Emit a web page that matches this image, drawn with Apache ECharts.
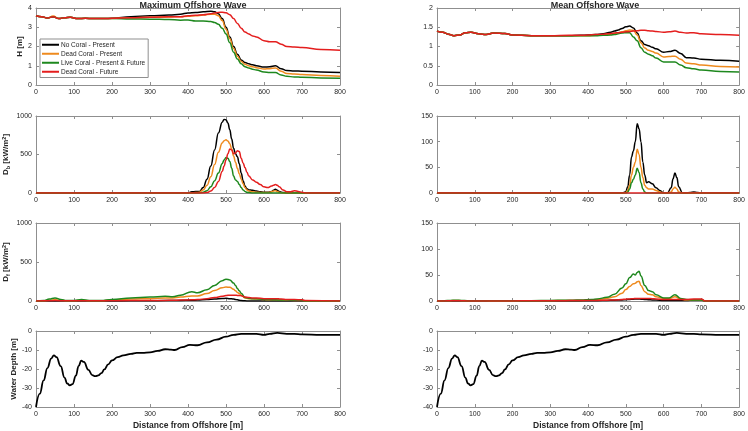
<!DOCTYPE html>
<html>
<head>
<meta charset="utf-8">
<script src="https://cdn.jsdelivr.net/npm/echarts@6/dist/echarts.min.js"></script>
<style>html,body{margin:0;padding:0;background:#fff}#c{width:748px;height:431px}</style>
</head>
<body>
<div id="c"></div>
<script>
// ---------- Data ----------
const SERIES_NAMES = ['No Coral - Present', 'Dead Coral - Present', 'Live Coral - Present & Future', 'Dead Coral - Future'];
const TITLES = ['Maximum Offshore Wave', 'Mean Offshore Wave'];

// Wave height
const X_H = [0,15,30,45,60,75,90,110,130,150,180,200,250,300,350,380,400,420,440,460,470,480,490,500,510,520,530,540,550,560,570,580,600,615,630,645,660,680,700,750,800];
const HMAX_NOCORAL = [3.6,3.55,3.48,3.55,3.45,3.5,3.52,3.45,3.47,3.45,3.45,3.47,3.55,3.6,3.63,3.68,3.74,3.77,3.8,3.83,3.8,3.7,3.45,3.0,2.5,2.0,1.6,1.3,1.17,1.1,1.05,1.0,0.93,0.95,1.0,0.85,0.75,0.73,0.72,0.68,0.65];
const HMAX_DEAD_PRESENT = [3.6,3.55,3.48,3.58,3.45,3.5,3.52,3.45,3.47,3.45,3.45,3.46,3.5,3.52,3.53,3.55,3.57,3.6,3.63,3.68,3.68,3.6,3.35,2.9,2.4,1.9,1.5,1.22,1.08,1.0,0.95,0.9,0.83,0.85,0.88,0.72,0.6,0.57,0.55,0.5,0.45];
const HMAX_LIVE = [3.6,3.55,3.48,3.55,3.45,3.5,3.52,3.45,3.47,3.45,3.45,3.45,3.43,3.42,3.4,3.37,3.38,3.33,3.32,3.3,3.25,3.15,2.95,2.65,2.2,1.7,1.35,1.1,0.95,0.88,0.82,0.78,0.68,0.65,0.65,0.52,0.45,0.42,0.4,0.37,0.35];
const HMAX_DEAD_FUTURE = [3.6,3.55,3.48,3.55,3.45,3.5,3.52,3.45,3.47,3.45,3.45,3.47,3.5,3.52,3.55,3.55,3.6,3.62,3.65,3.7,3.74,3.77,3.78,3.75,3.65,3.45,3.2,2.95,2.75,2.65,2.55,2.5,2.3,2.25,2.25,2.12,2.0,1.98,1.95,1.85,1.8];

const HMEAN_NOCORAL = [1.4,1.37,1.32,1.28,1.3,1.36,1.37,1.33,1.31,1.35,1.34,1.3,1.28,1.28,1.28,1.29,1.3,1.31,1.33,1.37,1.4,1.43,1.47,1.51,1.53,1.48,1.35,1.15,1.05,1.02,0.98,0.94,0.85,0.87,0.9,0.82,0.71,0.7,0.67,0.64,0.62];
const HMEAN_DEAD_PRESENT = [1.4,1.37,1.32,1.28,1.3,1.36,1.37,1.33,1.31,1.35,1.34,1.3,1.28,1.28,1.28,1.28,1.28,1.29,1.3,1.32,1.34,1.36,1.38,1.41,1.43,1.42,1.3,1.1,0.96,0.9,0.87,0.83,0.73,0.74,0.75,0.67,0.57,0.55,0.52,0.48,0.47];
const HMEAN_LIVE = [1.4,1.37,1.32,1.28,1.3,1.36,1.37,1.33,1.31,1.35,1.34,1.3,1.28,1.28,1.28,1.28,1.28,1.28,1.29,1.3,1.31,1.33,1.35,1.36,1.36,1.25,1.15,0.97,0.85,0.8,0.76,0.7,0.6,0.6,0.6,0.52,0.45,0.42,0.39,0.35,0.34];
const HMEAN_DEAD_FUTURE = [1.4,1.37,1.32,1.28,1.3,1.36,1.37,1.33,1.31,1.35,1.34,1.3,1.28,1.28,1.29,1.29,1.3,1.31,1.32,1.34,1.35,1.36,1.37,1.38,1.39,1.4,1.41,1.42,1.42,1.41,1.4,1.39,1.37,1.38,1.4,1.37,1.35,1.36,1.33,1.31,1.29];

// Breaking dissipation Db
const X_DB = [0,400,410,420,430,440,450,460,470,480,490,495,500,505,510,515,520,525,530,535,540,545,550,555,560,570,580,590,600,610,620,625,630,635,640,650,660,670,680,690,700,710,800];
const DBMAX_NOCORAL = [0,0,15,20,20,70,180,350,560,780,920,955,950,910,820,700,580,510,470,380,260,160,90,55,40,35,25,15,10,10,20,35,50,35,20,5,0,0,0,0,0,0,0];
const DBMAX_DEAD_PRESENT = [0,0,0,5,10,40,100,210,370,530,650,680,690,675,640,570,480,400,320,250,180,120,70,40,25,15,10,8,5,5,15,25,30,20,10,0,0,0,0,0,0,0,0];
const DBMAX_LIVE = [0,0,0,0,0,10,30,80,160,260,380,430,460,450,410,320,220,170,150,110,70,40,20,10,5,0,0,0,0,0,0,0,0,0,0,0,0,0,0,0,0,0,0];
const DBMAX_DEAD_FUTURE = [0,0,0,0,0,0,5,25,70,150,280,350,430,510,570,560,510,520,550,540,450,390,330,270,220,170,140,110,80,70,90,100,110,100,80,40,15,15,30,20,10,0,0];

const DBMEAN_NOCORAL = [0,0,0,0,0,0,0,0,0,0,0,1,3,12,35,70,82,100,135,125,100,60,35,20,22,18,10,5,0,0,10,28,39,30,12,0,0,1,2,1,0,0,0];
const DBMEAN_DEAD_PRESENT = [0,0,0,0,0,0,0,0,0,0,0,0,1,5,15,35,50,60,85,75,50,30,15,10,8,8,5,2,0,0,2,8,11,8,2,0,0,0,0,0,0,0,0];
const DBMEAN_LIVE = [0,0,0,0,0,0,0,0,0,0,0,0,0,2,8,20,27,35,48,40,20,8,2,0,0,0,0,0,0,0,0,0,0,0,0,0,0,0,0,0,0,0,0];
const DBMEAN_DEAD_FUTURE = [0,0,0,0,0,0,0,0,0,0,0,0,0,0,0,0,0,0,0,0,0,0,0,0,0,0,0,0,0,0,0,0,0,0,0,0,0,0,0,0,0,0,0];

// Friction dissipation Df
const X_DF = [0,20,35,50,65,80,100,120,140,170,200,250,300,340,360,380,410,425,450,470,490,500,510,520,525,530,535,540,550,560,570,580,600,615,630,645,660,680,700,710,800];
const DFMAX_NOCORAL = [0,0,0,0,0,0,0,0,0,0,0,2,3,5,5,7,10,12,18,25,32,35,30,25,20,15,10,6,2,0,0,0,0,0,0,0,0,0,0,0,0];
const DFMAX_DEAD_PRESENT = [0,3,10,15,8,3,3,8,3,3,12,25,30,40,40,50,65,65,95,135,170,180,175,150,130,110,95,75,40,30,28,25,18,15,15,12,10,8,8,0,0];
const DFMAX_LIVE = [0,5,25,40,20,5,5,18,5,5,20,40,50,60,55,75,120,105,145,200,260,280,270,230,200,160,130,100,45,35,30,28,20,18,15,12,12,10,8,0,0];
const DFMAX_DEAD_FUTURE = [0,2,3,5,3,2,2,3,2,2,3,5,5,8,10,12,15,18,30,45,60,70,75,75,75,72,70,68,50,45,40,38,30,28,30,25,20,18,15,5,0];

const DFMEAN_NOCORAL = [0,0,0,0,0,0,0,0,0,0,0,0,0,0,0,0,0.5,0.5,1,1.5,2,2.5,3,3.5,4,4,4,3.5,3,2.5,2,2,1,1,1,1,1,2,2,0,0];
const DFMEAN_DEAD_PRESENT = [0,0.3,0.5,1,0.5,0.3,0.3,0.3,0.2,0.2,0.2,0.3,0.6,1,1,1.2,2,3,5,8,15,22,28,33,34,37,38,30,18,13,12,8,5,5,8,4,2,2,2,0,0];
const DFMEAN_LIVE = [0,0.5,1,1.5,1,0.5,0.5,0.5,0.3,0.3,0.3,0.5,1,1.5,1.5,2,3,4,7,13,25,33,45,52,50,55,57,48,30,20,18,12,6,6,12,5,3,2,2,0,0];
const DFMEAN_DEAD_FUTURE = [0,0.2,0.3,0.5,0.3,0.2,0.2,0.2,0.2,0.2,0.2,0.3,0.5,0.7,0.8,1,1,1.2,1.5,2,3,3.5,4,4.5,4.8,5,5,5,5,5,4.5,4,3,3,3,3,3,4,4,0,0];

// Bathymetry
const X_D = [0,10,20,30,40,47,54,65,75,82,89,96,105,112,119,126,138,148,156,164,172,180,190,200,215,230,250,265,280,300,320,340,355,365,385,405,425,450,475,500,520,540,560,580,600,615,635,660,680,700,750,800];
const DEPTH = [-40,-33,-26,-19.5,-14.5,-12.8,-13.8,-18.5,-24.5,-27.6,-28.6,-28,-23.5,-18.5,-15.6,-16.3,-20.5,-23.2,-23.8,-23.4,-22.2,-20.2,-17.6,-15.5,-13.8,-12.8,-12,-11.5,-11.5,-11.2,-10.5,-9.6,-9.8,-10,-8.5,-7.3,-7.5,-6,-4.5,-3,-2,-1.5,-1.5,-1.5,-2,-1.5,-1,-1.5,-1.5,-1.8,-2,-2];

const X_TICKS = {min: 0, max: 800, interval: 100};

// ---------- Layout / style ----------
const COLORS = ['#000000', '#EE8A1E', '#1E881E', '#E41E1E'];
const COLS = [{left: 36, width: 304}, {left: 437, width: 305}];
const ROWS = [{top: 8, height: 77}, {top: 116, height: 77}, {top: 223, height: 78}, {top: 331, height: 77}];
const FONT = 'Liberation Sans, Arial, sans-serif';
const BOX = '#8f8f8f';
const TXT = '#262626';

const panels = [
  {row: 0, col: 0, x: X_H, ys: [HMAX_NOCORAL, HMAX_DEAD_PRESENT, HMAX_LIVE, HMAX_DEAD_FUTURE], y: {min: 0, max: 4, interval: 1}, name: '{b|H [m]}', gap: 10},
  {row: 0, col: 1, x: X_H, ys: [HMEAN_NOCORAL, HMEAN_DEAD_PRESENT, HMEAN_LIVE, HMEAN_DEAD_FUTURE], y: {min: 0, max: 2, interval: 0.5}},
  {row: 1, col: 0, x: X_DB, ys: [DBMAX_NOCORAL, DBMAX_DEAD_PRESENT, DBMAX_LIVE, DBMAX_DEAD_FUTURE], y: {min: 0, max: 1000, interval: 500}, name: '{b|D}{s|b}{b| [kW/m}{p|2}{b|]}', gap: 25},
  {row: 1, col: 1, x: X_DB, ys: [DBMEAN_NOCORAL, DBMEAN_DEAD_PRESENT, DBMEAN_LIVE, DBMEAN_DEAD_FUTURE], y: {min: 0, max: 150, interval: 50}},
  {row: 2, col: 0, x: X_DF, ys: [DFMAX_NOCORAL, DFMAX_DEAD_PRESENT, DFMAX_LIVE, DFMAX_DEAD_FUTURE], y: {min: 0, max: 1000, interval: 500}, name: '{b|D}{s|f}{b| [kW/m}{p|2}{b|]}', gap: 25},
  {row: 2, col: 1, x: X_DF, ys: [DFMEAN_NOCORAL, DFMEAN_DEAD_PRESENT, DFMEAN_LIVE, DFMEAN_DEAD_FUTURE], y: {min: 0, max: 150, interval: 50}},
  {row: 3, col: 0, x: X_D, ys: [DEPTH], depth: true, y: {min: -40, max: 0, interval: 10}, name: '{b|Water Depth [m]}', gap: 17, xname: true},
  {row: 3, col: 1, x: X_D, ys: [DEPTH], depth: true, y: {min: -40, max: 0, interval: 10}, xname: true}
];

const rich = {
  b: {fontSize: 8, fontWeight: 'bold', color: TXT, fontFamily: FONT},
  s: {fontSize: 5.5, fontWeight: 'bold', color: TXT, fontFamily: FONT, padding: [4, 0, 0, 0]},
  p: {fontSize: 5.5, fontWeight: 'bold', color: TXT, fontFamily: FONT, padding: [0, 0, 4, 0]}
};

const plain = v => String(v);

const grid = [], xAxis = [], yAxis = [], series = [];
panels.forEach((p, i) => {
  const c = COLS[p.col], r = ROWS[p.row];
  grid.push({left: c.left, top: r.top, width: c.width, height: r.height, containLabel: false});
  const lineStyle = {color: BOX, width: 1};
  xAxis.push({type: 'value', gridIndex: i, position: 'bottom', min: X_TICKS.min, max: X_TICKS.max, interval: X_TICKS.interval,
    axisLine: {onZero: false, lineStyle}, axisTick: {inside: true, length: 3, lineStyle},
    axisLabel: {fontSize: 7, color: TXT, fontFamily: FONT, margin: 4, formatter: plain}, splitLine: {show: false},
    name: p.xname ? 'Distance from Offshore [m]' : '', nameLocation: 'middle', nameGap: 14,
    nameTextStyle: {fontSize: 8.5, fontWeight: 'bold', color: TXT, fontFamily: FONT}});
  xAxis.push({type: 'value', gridIndex: i, position: 'top', min: X_TICKS.min, max: X_TICKS.max, interval: X_TICKS.interval,
    axisLine: {onZero: false, lineStyle}, axisTick: {inside: true, length: 3, lineStyle},
    axisLabel: {show: false}, splitLine: {show: false}});
  yAxis.push({type: 'value', gridIndex: i, position: 'left', min: p.y.min, max: p.y.max, interval: p.y.interval,
    axisLine: {onZero: false, lineStyle}, axisTick: {inside: true, length: 3, lineStyle},
    axisLabel: {fontSize: 7, color: TXT, fontFamily: FONT, margin: 4, formatter: plain}, splitLine: {show: false},
    name: p.name || '', nameLocation: 'middle', nameRotate: 90, nameGap: p.gap || 10,
    nameTextStyle: {rich: rich, fontSize: 8, fontWeight: 'bold', color: TXT, fontFamily: FONT}});
  yAxis.push({type: 'value', gridIndex: i, position: 'right', min: p.y.min, max: p.y.max, interval: p.y.interval,
    axisLine: {onZero: false, lineStyle}, axisTick: {inside: true, length: 3, lineStyle},
    axisLabel: {show: false}, splitLine: {show: false}});
  p.ys.forEach((ys, k) => {
    series.push({
      type: 'line', name: p.depth ? 'depth' : SERIES_NAMES[k],
      xAxisIndex: 2 * i, yAxisIndex: 2 * i,
      data: p.x.map((x, j) => [x, ys[j]]),
      symbol: 'none', smooth: 0.45, smoothMonotone: 'x',
      lineStyle: {color: p.depth ? '#000' : COLORS[k], width: p.depth ? 1.8 : 1.5},
      itemStyle: {color: p.depth ? '#000' : COLORS[k]},
      silent: true, animation: false, z: 2 + k
    });
  });
});

const option = {
  animation: false,
  backgroundColor: '#ffffff',
  title: [
    {text: TITLES[0], left: 188, top: -4, textAlign: 'center', textStyle: {fontSize: 9, fontWeight: 'bold', color: TXT, fontFamily: FONT}},
    {text: TITLES[1], left: 590, top: -4, textAlign: 'center', textStyle: {fontSize: 9, fontWeight: 'bold', color: TXT, fontFamily: FONT}}
  ],
  legend: {
    data: SERIES_NAMES, orient: 'vertical', left: 40, top: 39,
    icon: 'rect', itemWidth: 17, itemHeight: 2, itemGap: 1.5,
    padding: [2, 3, 2, 2], borderColor: BOX, borderWidth: 1, backgroundColor: '#fff',
    textStyle: {fontSize: 6.5, color: TXT, fontFamily: FONT, padding: [0, 0, 0, -3], lineHeight: 7.5},
    selectedMode: false
  },
  grid, xAxis, yAxis, series
};

const chart = echarts.init(document.getElementById('c'), null, {renderer: 'canvas'});
chart.setOption(option);
</script>
</body>
</html>
